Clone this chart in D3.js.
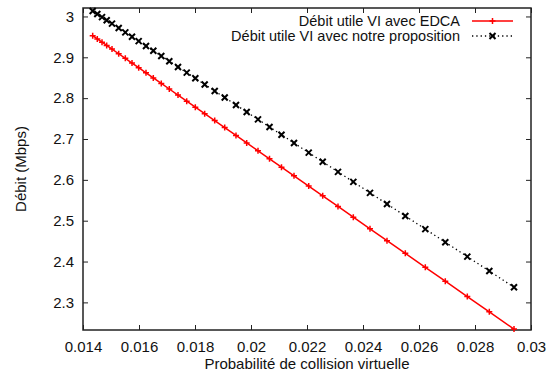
<!DOCTYPE html>
<html>
<head>
<meta charset="utf-8">
<script src="https://cdn.jsdelivr.net/npm/d3@7"></script>
<style>
  body { margin: 0; background: #fff; }
  svg { display: block; font-family: "Liberation Sans", Arial, sans-serif; }
</style>
</head>
<body>
<div id="chart"></div>
<script>
// collision probability (x)
const probs = [0.014346, 0.014511, 0.014679, 0.014846, 0.015036, 0.015275, 0.015511, 0.01575,
  0.015989, 0.01625, 0.016511, 0.016796, 0.017082, 0.017393, 0.017704, 0.018011, 0.018346,
  0.018704, 0.019061, 0.019464, 0.019846, 0.02025, 0.020661, 0.021089, 0.021536, 0.022061,
  0.022561, 0.023107, 0.023654, 0.02425, 0.024857, 0.025511, 0.026225, 0.026939, 0.027725,
  0.028511, 0.029393]

// debit utile VI avec EDCA
const debitEdca = [2.953, 2.9451, 2.9371, 2.9291, 2.9201, 2.9087, 2.8974, 2.886, 2.8746, 2.8621,
  2.8496, 2.836, 2.8224, 2.8075, 2.7927, 2.778, 2.762, 2.745, 2.7279, 2.7087, 2.6904, 2.6711,
  2.6515, 2.6311, 2.6098, 2.5847, 2.5608, 2.5348, 2.5086, 2.4802, 2.4512, 2.42, 2.3859, 2.3518,
  2.3143, 2.2768, 2.2346]

// debit utile VI avec notre proposition
const debitProp = [3.0134, 3.006, 2.9984, 2.9909, 2.9824, 2.9716, 2.961, 2.9503, 2.9396, 2.9278,
  2.9161, 2.9033, 2.8904, 2.8764, 2.8625, 2.8487, 2.8336, 2.8175, 2.8015, 2.7834, 2.7662, 2.748,
  2.7295, 2.7103, 2.6902, 2.6666, 2.6441, 2.6196, 2.595, 2.5682, 2.5409, 2.5115, 2.4794, 2.4473,
  2.412, 2.3767, 2.337]

const xTicks = [0.014, 0.016, 0.018, 0.02, 0.022, 0.024, 0.026, 0.028, 0.03]
const yTicks = [2.3, 2.4, 2.5, 2.6, 2.7, 2.8, 2.9, 3]

const seriesNames = ['Débit utile VI avec EDCA', 'Débit utile VI avec notre proposition']

const width = 549
const height = 378
const margin = { top: 8, right: 18, bottom: 48, left: 83 }
const innerW = width - margin.left - margin.right
const innerH = height - margin.top - margin.bottom

const svg = d3.select('#chart')
  .append('svg')
  .attr('width', width)
  .attr('height', height)

const x = d3.scaleLinear().domain([0.014, 0.03]).range([margin.left, margin.left + innerW])
const y = d3.scaleLinear().domain([2.2324, 3.0207]).range([margin.top + innerH, margin.top])

const tickLen = 5
const fmt = d => String(d)

// bottom axis + mirrored top ticks
svg.append('g')
  .attr('transform', `translate(0,${margin.top + innerH})`)
  .call(d3.axisBottom(x).tickValues(xTicks).tickFormat(fmt).tickSizeInner(-tickLen).tickSizeOuter(0).tickPadding(11))
svg.append('g')
  .attr('transform', `translate(0,${margin.top})`)
  .call(d3.axisTop(x).tickValues(xTicks).tickFormat('').tickSizeInner(-tickLen).tickSizeOuter(0))

// left axis + mirrored right ticks
svg.append('g')
  .attr('transform', `translate(${margin.left},0)`)
  .call(d3.axisLeft(y).tickValues(yTicks).tickFormat(fmt).tickSizeInner(-tickLen).tickSizeOuter(0).tickPadding(9))
svg.append('g')
  .attr('transform', `translate(${margin.left + innerW},0)`)
  .call(d3.axisRight(y).tickValues(yTicks).tickFormat('').tickSizeInner(-tickLen).tickSizeOuter(0))

svg.selectAll('.domain').remove()
svg.selectAll('.tick line').attr('stroke', '#222').attr('stroke-width', 1)
svg.selectAll('.tick text').attr('font-size', '15px').attr('fill', '#111')
  .attr('font-family', '"Liberation Sans", Arial, sans-serif')

// frame
svg.append('rect')
  .attr('x', margin.left)
  .attr('y', margin.top)
  .attr('width', innerW)
  .attr('height', innerH)
  .attr('fill', 'none')
  .attr('stroke', '#222')
  .attr('stroke-width', 1.5)

// axis titles
svg.append('text')
  .attr('x', margin.left + innerW / 2)
  .attr('y', 369)
  .attr('text-anchor', 'middle')
  .attr('font-size', '15px')
  .attr('fill', '#111')
  .text('Probabilité de collision virtuelle')

svg.append('text')
  .attr('transform', `translate(26,${margin.top + innerH / 2}) rotate(-90)`)
  .attr('text-anchor', 'middle')
  .attr('font-size', '15px')
  .attr('fill', '#111')
  .text('Débit (Mbps)')

const plot = svg.append('g')

const line = vals => d3.line()
  .x((d, i) => x(probs[i]))
  .y(d => y(d))(vals)

const plusPath = s => `M${-s},0H${s}M0,${-s}V${s}`
const crossPath = s => `M${-s},${-s}L${s},${s}M${-s},${s}L${s},${-s}`

// red series: solid with + markers
plot.append('path')
  .attr('d', line(debitEdca))
  .attr('fill', 'none')
  .attr('stroke', '#ff0000')
  .attr('stroke-width', 1.5)

plot.selectAll('.mk-edca')
  .data(debitEdca)
  .join('path')
  .attr('class', 'mk-edca')
  .attr('transform', (d, i) => `translate(${x(probs[i])},${y(d)})`)
  .attr('d', plusPath(3))
  .attr('stroke', '#ff0000')
  .attr('stroke-width', 1.5)

// black series: dotted with x markers
plot.append('path')
  .attr('d', line(debitProp))
  .attr('fill', 'none')
  .attr('stroke', '#000')
  .attr('stroke-width', 1.3)
  .attr('stroke-dasharray', '1.3,3')

plot.selectAll('.mk-prop')
  .data(debitProp)
  .join('path')
  .attr('class', 'mk-prop')
  .attr('transform', (d, i) => `translate(${x(probs[i])},${y(d)})`)
  .attr('d', crossPath(3))
  .attr('stroke', '#000')
  .attr('stroke-width', 2)

// legend
const legend = svg.append('g')
const legendRows = [
  { name: seriesNames[0], color: '#ff0000', dash: null, mark: plusPath(3), mw: 1.5, lw: 1.5 },
  { name: seriesNames[1], color: '#000', dash: '1.3,3', mark: crossPath(3), mw: 2, lw: 1.3 }
]
legendRows.forEach((r, i) => {
  const ly = 21 + i * 15
  legend.append('text')
    .attr('x', 460)
    .attr('y', ly)
    .attr('dy', '0.35em')
    .attr('text-anchor', 'end')
    .attr('font-size', '14.5px')
    .attr('fill', '#111')
    .text(r.name)
  legend.append('line')
    .attr('x1', 472).attr('x2', 513)
    .attr('y1', ly).attr('y2', ly)
    .attr('stroke', r.color)
    .attr('stroke-width', r.lw)
    .attr('stroke-dasharray', r.dash)
  legend.append('path')
    .attr('transform', `translate(492.5,${ly})`)
    .attr('d', r.mark)
    .attr('stroke', r.color)
    .attr('stroke-width', r.mw)
})
</script>
</body>
</html>
